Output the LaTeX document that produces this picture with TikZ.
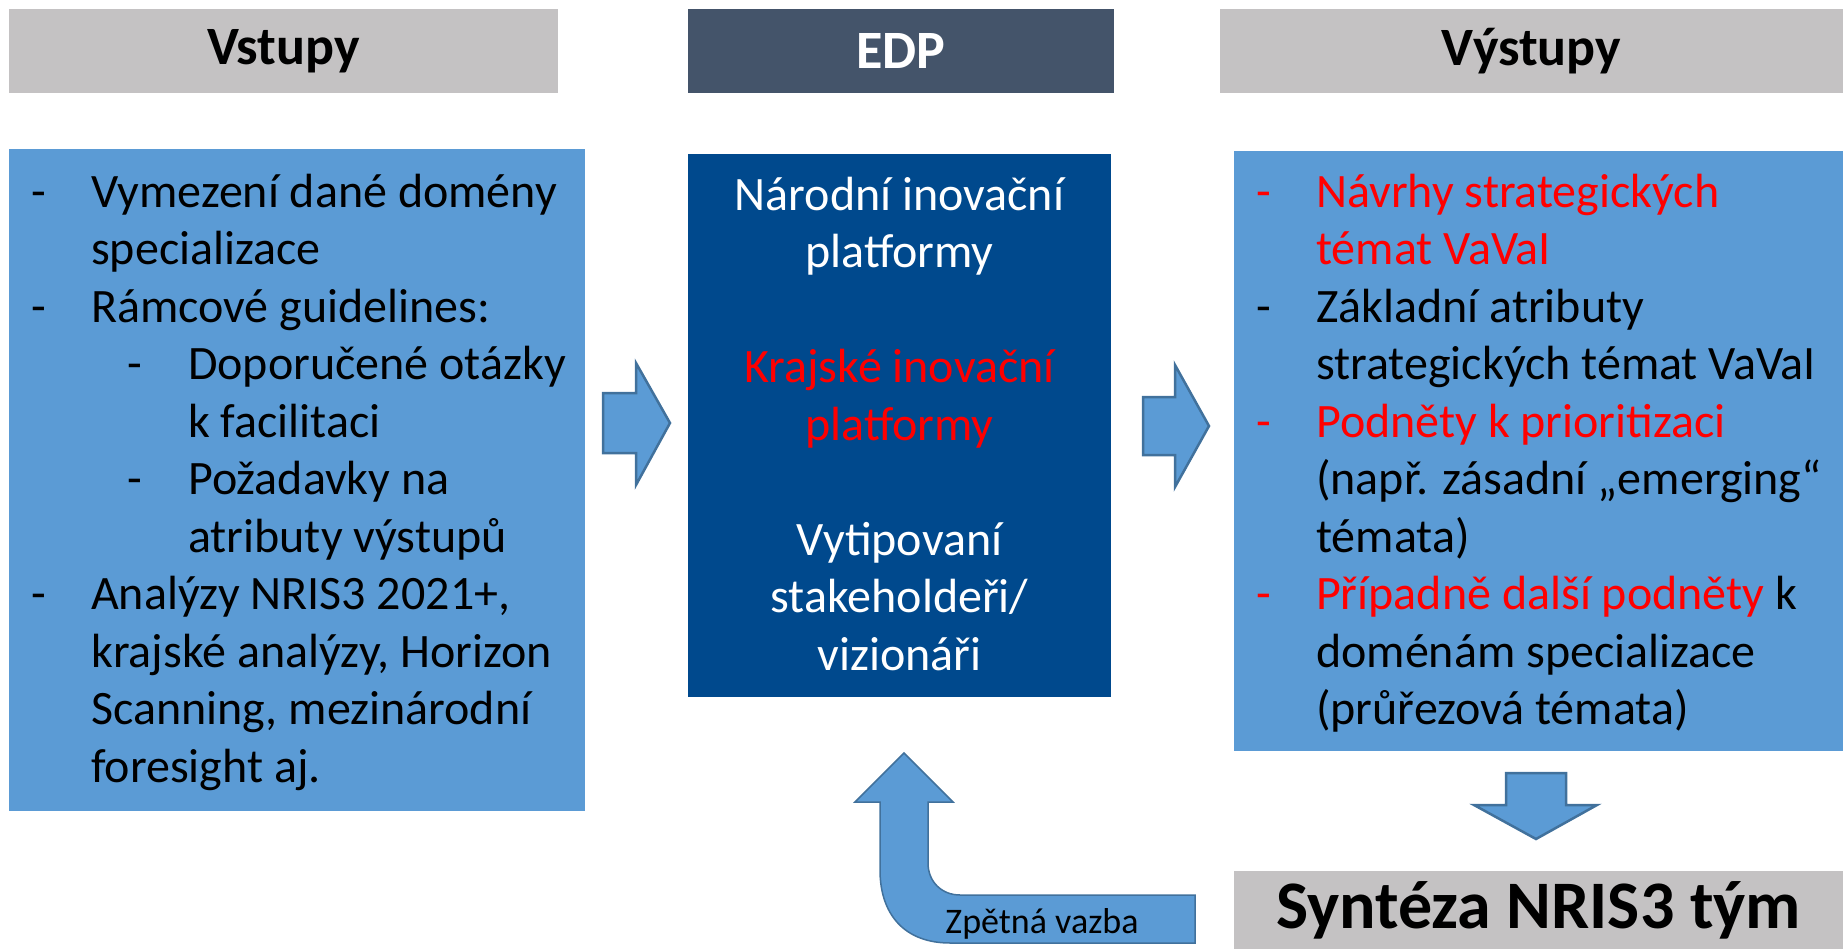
\documentclass[tikz,border=0pt]{standalone}
\usepackage{fontspec}
\setmainfont{Carlito}
\usetikzlibrary{positioning}
\definecolor{boxblue}{HTML}{5B9BD5}
\definecolor{edgeblue}{HTML}{41719C}
\definecolor{edpblue}{HTML}{00498D}
\definecolor{edphead}{HTML}{44546A}
\definecolor{headgray}{HTML}{C4C2C3}
\newcommand{\pomlc}{\makebox[60pt][l]{-}}
\newcommand{\podpomlc}{\hspace*{96pt}\makebox[61pt][l]{-}}
\newcommand{\odsaz}{\hspace*{60pt}}
\newcommand{\podsaz}{\hspace*{157pt}}
\tikzset{
  hlava/.style={rectangle, fill=headgray, inner sep=0pt, minimum height=84pt,
    font=\bfseries\fontsize{54}{62}\selectfont},
  blok/.style={rectangle, fill=boxblue, inner sep=0pt},
  seznam/.style={align=left, inner sep=0pt, anchor=base west,
    font=\fontsize{48}{57.5}\selectfont},
  sipka/.style={fill=boxblue, draw=edgeblue, line width=2.5pt, line join=miter}
}
\begin{document}
\begin{tikzpicture}[x=1pt,y=-1pt]
  \useasboundingbox (0,0) rectangle (1845,950);
  \node[hlava, minimum width=549pt] (vstupy) at (283.5,51) {Vstupy};
  \node[hlava, fill=edphead, text=white, minimum width=426pt] (edp) at (901,51) {EDP};
  \node[hlava, minimum width=623pt] (vystupy) at (1531.5,51) {Výstupy};
  \node[hlava, minimum width=609pt, minimum height=78pt, font=\bfseries\fontsize{68}{74}\selectfont] (synteza) at (1538.5,910) {Syntéza NRIS3 tým};

  \node[blok, minimum width=576pt, minimum height=662pt] (vstup) at (297,480) {};
  \node[blok, fill=edpblue, minimum width=423pt, minimum height=543pt] (platformy) at (899.5,425.5) {};
  \node[blok, minimum width=609pt, minimum height=600pt] (vystup) at (1538.5,451) {};

  \node[seznam] (vstuptext) at (31,782) {
    \pomlc Vymezení dané domény\\
    \odsaz specializace\\
    \pomlc Rámcové guidelines:\\
    \podpomlc Doporučené otázky\\
    \podsaz k facilitaci\\
    \podpomlc Požadavky na\\
    \podsaz atributy výstupů\\
    \pomlc Analýzy NRIS3 2021+,\\
    \odsaz krajské analýzy, Horizon\\
    \odsaz Scanning, mezinárodní\\
    \odsaz foresight aj.};

  \node[seznam, align=center, anchor=base, text=white] (platftext) at (899.5,670) {
    Národní inovační\\
    platformy\\
    \strut\\
    \textcolor{red}{Krajské inovační}\\
    \textcolor{red}{platformy}\\
    \strut\\
    Vytipovaní\\
    stakeholdeři/\\
    vizionáři};

  \node[seznam] (vystuptext) at (1256,724.5) {
    \textcolor{red}{\pomlc Návrhy strategických}\\
    \odsaz\textcolor{red}{témat VaVaI}\\
    \pomlc Základní atributy\\
    \odsaz strategických témat VaVaI\\
    \textcolor{red}{\pomlc Podněty k prioritizaci}\\
    \odsaz (např. zásadní „emerging“\\
    \odsaz témata)\\
    \textcolor{red}{\pomlc Případně další podněty} k\\
    \odsaz doménám specializace\\
    \odsaz (průřezová témata)};

  \draw[sipka] (603,393) -- (636,393) -- (636,363) -- (670,423) -- (636,485) -- (636,453) -- (603,453) -- cycle;
  \draw[sipka] (1143,397) -- (1175,397) -- (1175,365) -- (1209,426) -- (1175,487) -- (1175,455) -- (1143,455) -- cycle;
  \draw[sipka] (1506,773) -- (1566,773) -- (1566,805) -- (1597,805) -- (1536,839) -- (1474,805) -- (1506,805) -- cycle;

  \draw[sipka, line width=1.5pt] (904,753) -- (953,802) -- (928,802) -- (928,863)
    .. controls (928,882) and (942,895) .. (960,895) -- (1195,895) -- (1195,943) -- (950,943)
    .. controls (905,943) and (880,915) .. (880,870) -- (880,802) -- (855,802) -- cycle;
  \node[anchor=base, inner sep=0pt, font=\fontsize{36}{44}\selectfont] (zpetna) at (1042,933) {Zpětná vazba};
\end{tikzpicture}
\end{document}
